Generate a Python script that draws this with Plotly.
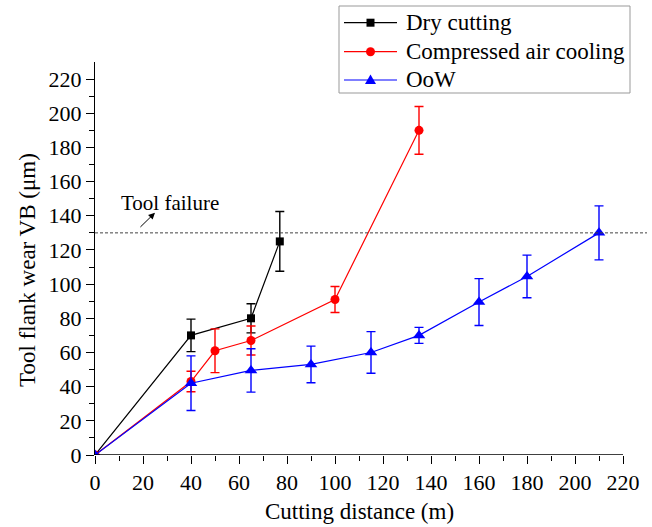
import plotly.graph_objects as go

# Cutting distance (m) and flank wear VB (µm) with standard deviations
dry_x = [0, 40, 65, 77]
dry_y = [0, 70, 80, 125]
dry_err = [0, 9.5, 8.5, 17.5]

air_x = [0, 40, 50, 65, 100, 135]
air_y = [0, 43, 61, 67, 91, 190]
air_err = [0, 6, 12.8, 8.5, 7.6, 14]

oow_x = [0, 40, 65, 90, 115, 135, 160, 180, 210]
oow_y = [0, 42, 49.5, 53, 60, 70, 89.5, 104.5, 130]
oow_err = [0, 16, 12.7, 10.7, 12.2, 4.7, 13.7, 12.5, 15.8]

failure_limit = 130

x_ticks = list(range(0, 221, 20))
x_minor = list(range(10, 220, 20))
y_ticks = list(range(0, 221, 20))
y_minor = list(range(10, 220, 20))

FONT = "Liberation Serif"
W, H = 652, 527
ML, MR, MT, MB = 95, 5, 62, 72
PW, PH = W - ML - MR, H - MT - MB


def px_x(px):
    return (px - ML) / PW


def px_y(py):
    return (H - MB - py) / PH


series = [
    ("Dry cutting", dry_x, dry_y, dry_err, "#000000", "square", 8),
    ("Compressed air cooling", air_x, air_y, air_err, "#ff0000", "circle", 9),
    ("OoW", oow_x, oow_y, oow_err, "#0000ff", "triangle-up", 11),
]

fig = go.Figure()
for name, xs, ys, es, color, symbol, size in series:
    fig.add_trace(go.Scatter(
        x=xs, y=ys, name=name, mode="lines+markers",
        line=dict(color=color, width=1.2),
        marker=dict(color=color, symbol=symbol, size=size),
        error_y=dict(type="data", array=es, visible=True, color=color,
                     thickness=1.4, width=4.5),
        showlegend=False,
    ))

shapes = [
    # tool failure threshold
    dict(type="line", xref="x", yref="y", x0=0, x1=230,
         y0=failure_limit, y1=failure_limit,
         line=dict(color="#444444", width=1, dash="3px,2px")),
    # x axis line (stops at 220)
    dict(type="line", xref="x", yref="y", x0=0, x1=220, y0=0, y1=0,
         line=dict(color="black", width=1.3)),
    # legend frame
    dict(type="rect", xref="paper", yref="paper",
         x0=px_x(339), x1=px_x(630), y0=px_y(93), y1=px_y(6),
         line=dict(color="#999999", width=1), fillcolor="white"),
]

annotations = [
    dict(x=31.3, y=147.5, xref="x", yref="y", text="Tool failure",
         xanchor="center", yanchor="middle",
         showarrow=False, font=dict(family=FONT, size=21, color="black")),
    dict(x=25.0, y=141.8, ax=18.3, ay=132.6, xref="x", yref="y",
         axref="x", ayref="y", text="", showarrow=True,
         arrowhead=2, arrowsize=1.3, arrowwidth=1, arrowcolor="black"),
    dict(x=px_x(359), y=px_y(512), xref="paper", yref="paper",
         xanchor="center", yanchor="middle",
         text="Cutting distance (m)", showarrow=False,
         font=dict(family=FONT, size=23, color="black")),
    dict(x=px_x(27), y=px_y(270), xref="paper", yref="paper",
         xanchor="center", yanchor="middle",
         text="Tool flank wear VB (μm)", textangle=-90, showarrow=False,
         font=dict(family=FONT, size=23, color="black")),
]

# legend drawn as shapes and text
row_y = [22.7, 51.7, 80.0]
for (name, _, _, _, color, symbol, size), ry in zip(series, row_y):
    yy = px_y(ry)
    shapes.append(dict(type="line", xref="paper", yref="paper",
                       x0=px_x(344), x1=px_x(397), y0=yy, y1=yy,
                       line=dict(color=color, width=1.2)))
    xc = px_x(370.5)
    if symbol == "square":
        shapes.append(dict(type="rect", xref="paper", yref="paper",
                           xsizemode="pixel", ysizemode="pixel",
                           xanchor=xc, yanchor=yy, x0=-4, x1=4, y0=-4, y1=4,
                           fillcolor=color, line=dict(width=0)))
    elif symbol == "circle":
        shapes.append(dict(type="circle", xref="paper", yref="paper",
                           xsizemode="pixel", ysizemode="pixel",
                           xanchor=xc, yanchor=yy, x0=-4.5, x1=4.5,
                           y0=-4.5, y1=4.5,
                           fillcolor=color, line=dict(width=0)))
    else:
        shapes.append(dict(type="path", xref="paper", yref="paper",
                           xsizemode="pixel", ysizemode="pixel",
                           xanchor=xc, yanchor=yy,
                           path="M -5.5 -4 L 5.5 -4 L 0 5.5 Z",
                           fillcolor=color, line=dict(width=0)))
    annotations.append(dict(x=px_x(404), y=yy, xref="paper", yref="paper",
                            xanchor="left", yanchor="middle", text=name,
                            showarrow=False,
                            font=dict(family=FONT, size=23, color="black")))

fig.update_layout(
    width=W, height=H,
    margin=dict(l=ML, r=MR, t=MT, b=MB),
    paper_bgcolor="white", plot_bgcolor="white",
    font=dict(family=FONT, color="black"),
    shapes=shapes, annotations=annotations,
    showlegend=False,
)
fig.update_xaxes(
    range=[0, 230], showgrid=False, zeroline=False, showline=False,
    tickmode="array", tickvals=x_ticks, ticks="outside", ticklen=8,
    tickwidth=1.2, tickcolor="black",
    tickfont=dict(family=FONT, size=22, color="black"),
    minor=dict(tickmode="array", tickvals=x_minor, ticks="outside",
               ticklen=5, tickwidth=1.2, tickcolor="black"),
)
fig.update_yaxes(
    range=[0, 230], showgrid=False, zeroline=False, showline=True,
    linecolor="black", linewidth=1.3,
    tickmode="array", tickvals=y_ticks, ticks="outside", ticklen=8,
    tickwidth=1.2, tickcolor="black",
    tickfont=dict(family=FONT, size=22, color="black"),
    minor=dict(tickmode="array", tickvals=y_minor, ticks="outside",
               ticklen=5, tickwidth=1.2, tickcolor="black"),
)

fig.write_html("out.html")
